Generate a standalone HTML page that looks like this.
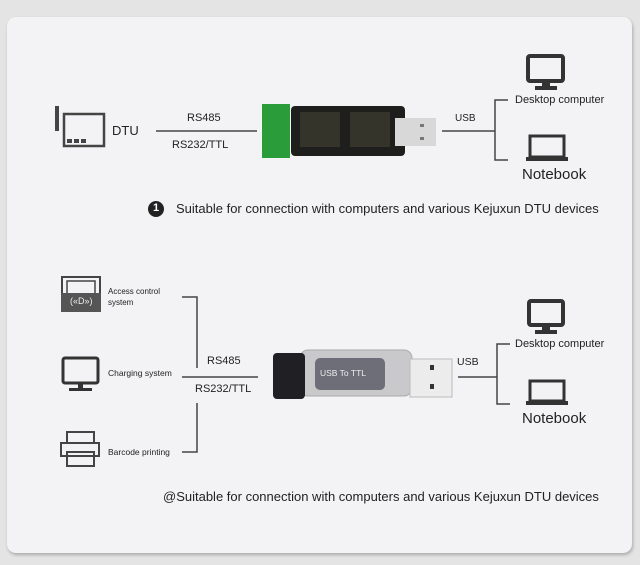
<!DOCTYPE html>
<html><head><style>
body{margin:0;width:640px;height:565px;background:#e4e4e4;font-family:"Liberation Sans",sans-serif;position:relative;overflow:hidden;color:#222}
.card{position:absolute;left:7px;top:17px;width:625px;height:536px;background:#f3f3f5;border-radius:9px;box-shadow:1px 2px 3px rgba(0,0,0,.25)}
.t{position:absolute;white-space:nowrap;line-height:1}
</style></head><body>
<div class="card"></div>
<svg style="position:absolute;left:0;top:0" width="640" height="565">
<rect x="55" y="106" width="4" height="25" fill="#444"/>
<rect x="64" y="114" width="40" height="32" fill="none" stroke="#444" stroke-width="2.5"/>
<rect x="67" y="139" width="5" height="4" fill="#444"/><rect x="74" y="139" width="5" height="4" fill="#444"/><rect x="81" y="139" width="5" height="4" fill="#444"/>
<line x1="156" y1="131" x2="257" y2="131" stroke="#444" stroke-width="1.5"/>
<rect x="262" y="104" width="28" height="54" fill="#2a9d3a"/>
<rect x="291" y="106" width="114" height="50" rx="4" fill="#1e1e1c"/>
<rect x="300" y="112" width="40" height="35" fill="#3a3a30" opacity=".8"/>
<rect x="350" y="112" width="40" height="35" fill="#3a3a2e" opacity=".8"/>
<rect x="395" y="118" width="41" height="28" fill="#d8d8d8"/>
<rect x="420" y="124" width="4" height="3" fill="#777"/><rect x="420" y="137" width="4" height="3" fill="#777"/>
<line x1="442" y1="131" x2="495" y2="131" stroke="#444" stroke-width="1.5"/>
<path d="M508 100H495V160H508" fill="none" stroke="#444" stroke-width="1.5"/>
<rect x="528" y="56" width="35" height="25" rx="2" fill="none" stroke="#333" stroke-width="4"/>
<rect x="542" y="81" width="8" height="5" fill="#333"/><rect x="535" y="86" width="22" height="4" fill="#333"/>
<rect x="530" y="136" width="34" height="21" fill="none" stroke="#333" stroke-width="3"/>
<rect x="526" y="157" width="42" height="4" fill="#333"/>
<circle cx="156" cy="209" r="8" fill="#222"/>
<rect x="62" y="277" width="38" height="24" fill="none" stroke="#444" stroke-width="2"/>
<rect x="67" y="281" width="28" height="14" fill="none" stroke="#444" stroke-width="1.5"/>
<rect x="61" y="293" width="40" height="19" fill="#555"/>
<rect x="63" y="358" width="35" height="25" rx="2" fill="none" stroke="#333" stroke-width="3"/>
<rect x="78" y="383" width="5" height="5" fill="#333"/><rect x="69" y="388" width="23" height="3" fill="#333"/>
<rect x="67" y="432" width="27" height="11" fill="none" stroke="#444" stroke-width="2"/>
<rect x="61" y="443" width="38" height="13" fill="none" stroke="#444" stroke-width="2"/>
<rect x="67" y="452" width="27" height="14" fill="none" stroke="#444" stroke-width="2"/>
<path d="M182 297H197V368M182 377H258M197 403V452H182" fill="none" stroke="#444" stroke-width="1.5"/>
<rect x="300" y="350" width="112" height="46" rx="8" fill="#c9c9cc" stroke="#aaa"/>
<rect x="315" y="358" width="70" height="32" rx="5" fill="#6e6e78"/>
<rect x="273" y="353" width="32" height="46" rx="4" fill="#1f1f24"/>
<rect x="410" y="359" width="42" height="38" fill="#ececec" stroke="#bbb"/>
<rect x="430" y="365" width="4" height="5" fill="#333"/><rect x="430" y="384" width="4" height="5" fill="#333"/>
<line x1="458" y1="377" x2="497" y2="377" stroke="#444" stroke-width="1.5"/>
<path d="M510 344H497V404H510" fill="none" stroke="#444" stroke-width="1.5"/>
<rect x="529" y="301" width="34" height="24" rx="2" fill="none" stroke="#333" stroke-width="4"/>
<rect x="542" y="325" width="8" height="5" fill="#333"/><rect x="535" y="330" width="22" height="4" fill="#333"/>
<rect x="530" y="381" width="34" height="20" fill="none" stroke="#333" stroke-width="3"/>
<rect x="526" y="401" width="42" height="4" fill="#333"/>
</svg>
<div class="t" style="left:112px;top:124px;font-size:13px">DTU</div>
<div class="t" style="left:187px;top:113px;font-size:11px">RS485</div>
<div class="t" style="left:172px;top:140px;font-size:11px">RS232/TTL</div>
<div class="t" style="left:455px;top:114px;font-size:10px">USB</div>
<div class="t" style="left:515px;top:95px;font-size:11px">Desktop computer</div>
<div class="t" style="left:522px;top:167px;font-size:15px">Notebook</div>
<div class="t" style="left:153px;top:203px;font-size:11px;color:#fff;font-weight:bold">1</div>
<div class="t" style="left:176px;top:202px;font-size:13px">Suitable for connection with computers and various Kejuxun DTU devices</div>
<div class="t" style="left:70px;top:297px;font-size:9px;color:#eee">(«D»)</div>
<div class="t" style="left:108px;top:286px;font-size:8px;line-height:11px;white-space:normal;width:70px">Access control system</div>
<div class="t" style="left:108px;top:369px;font-size:8.5px">Charging system</div>
<div class="t" style="left:108px;top:448px;font-size:8.5px">Barcode printing</div>
<div class="t" style="left:207px;top:356px;font-size:11px">RS485</div>
<div class="t" style="left:195px;top:384px;font-size:11px">RS232/TTL</div>
<div class="t" style="left:320px;top:369px;font-size:8.5px;color:#eee">USB To TTL</div>
<div class="t" style="left:457px;top:357px;font-size:10.5px">USB</div>
<div class="t" style="left:515px;top:339px;font-size:11px">Desktop computer</div>
<div class="t" style="left:522px;top:411px;font-size:15px">Notebook</div>
<div class="t" style="left:163px;top:490px;font-size:13px">@Suitable for connection with computers and various Kejuxun DTU devices</div>
</body></html>
